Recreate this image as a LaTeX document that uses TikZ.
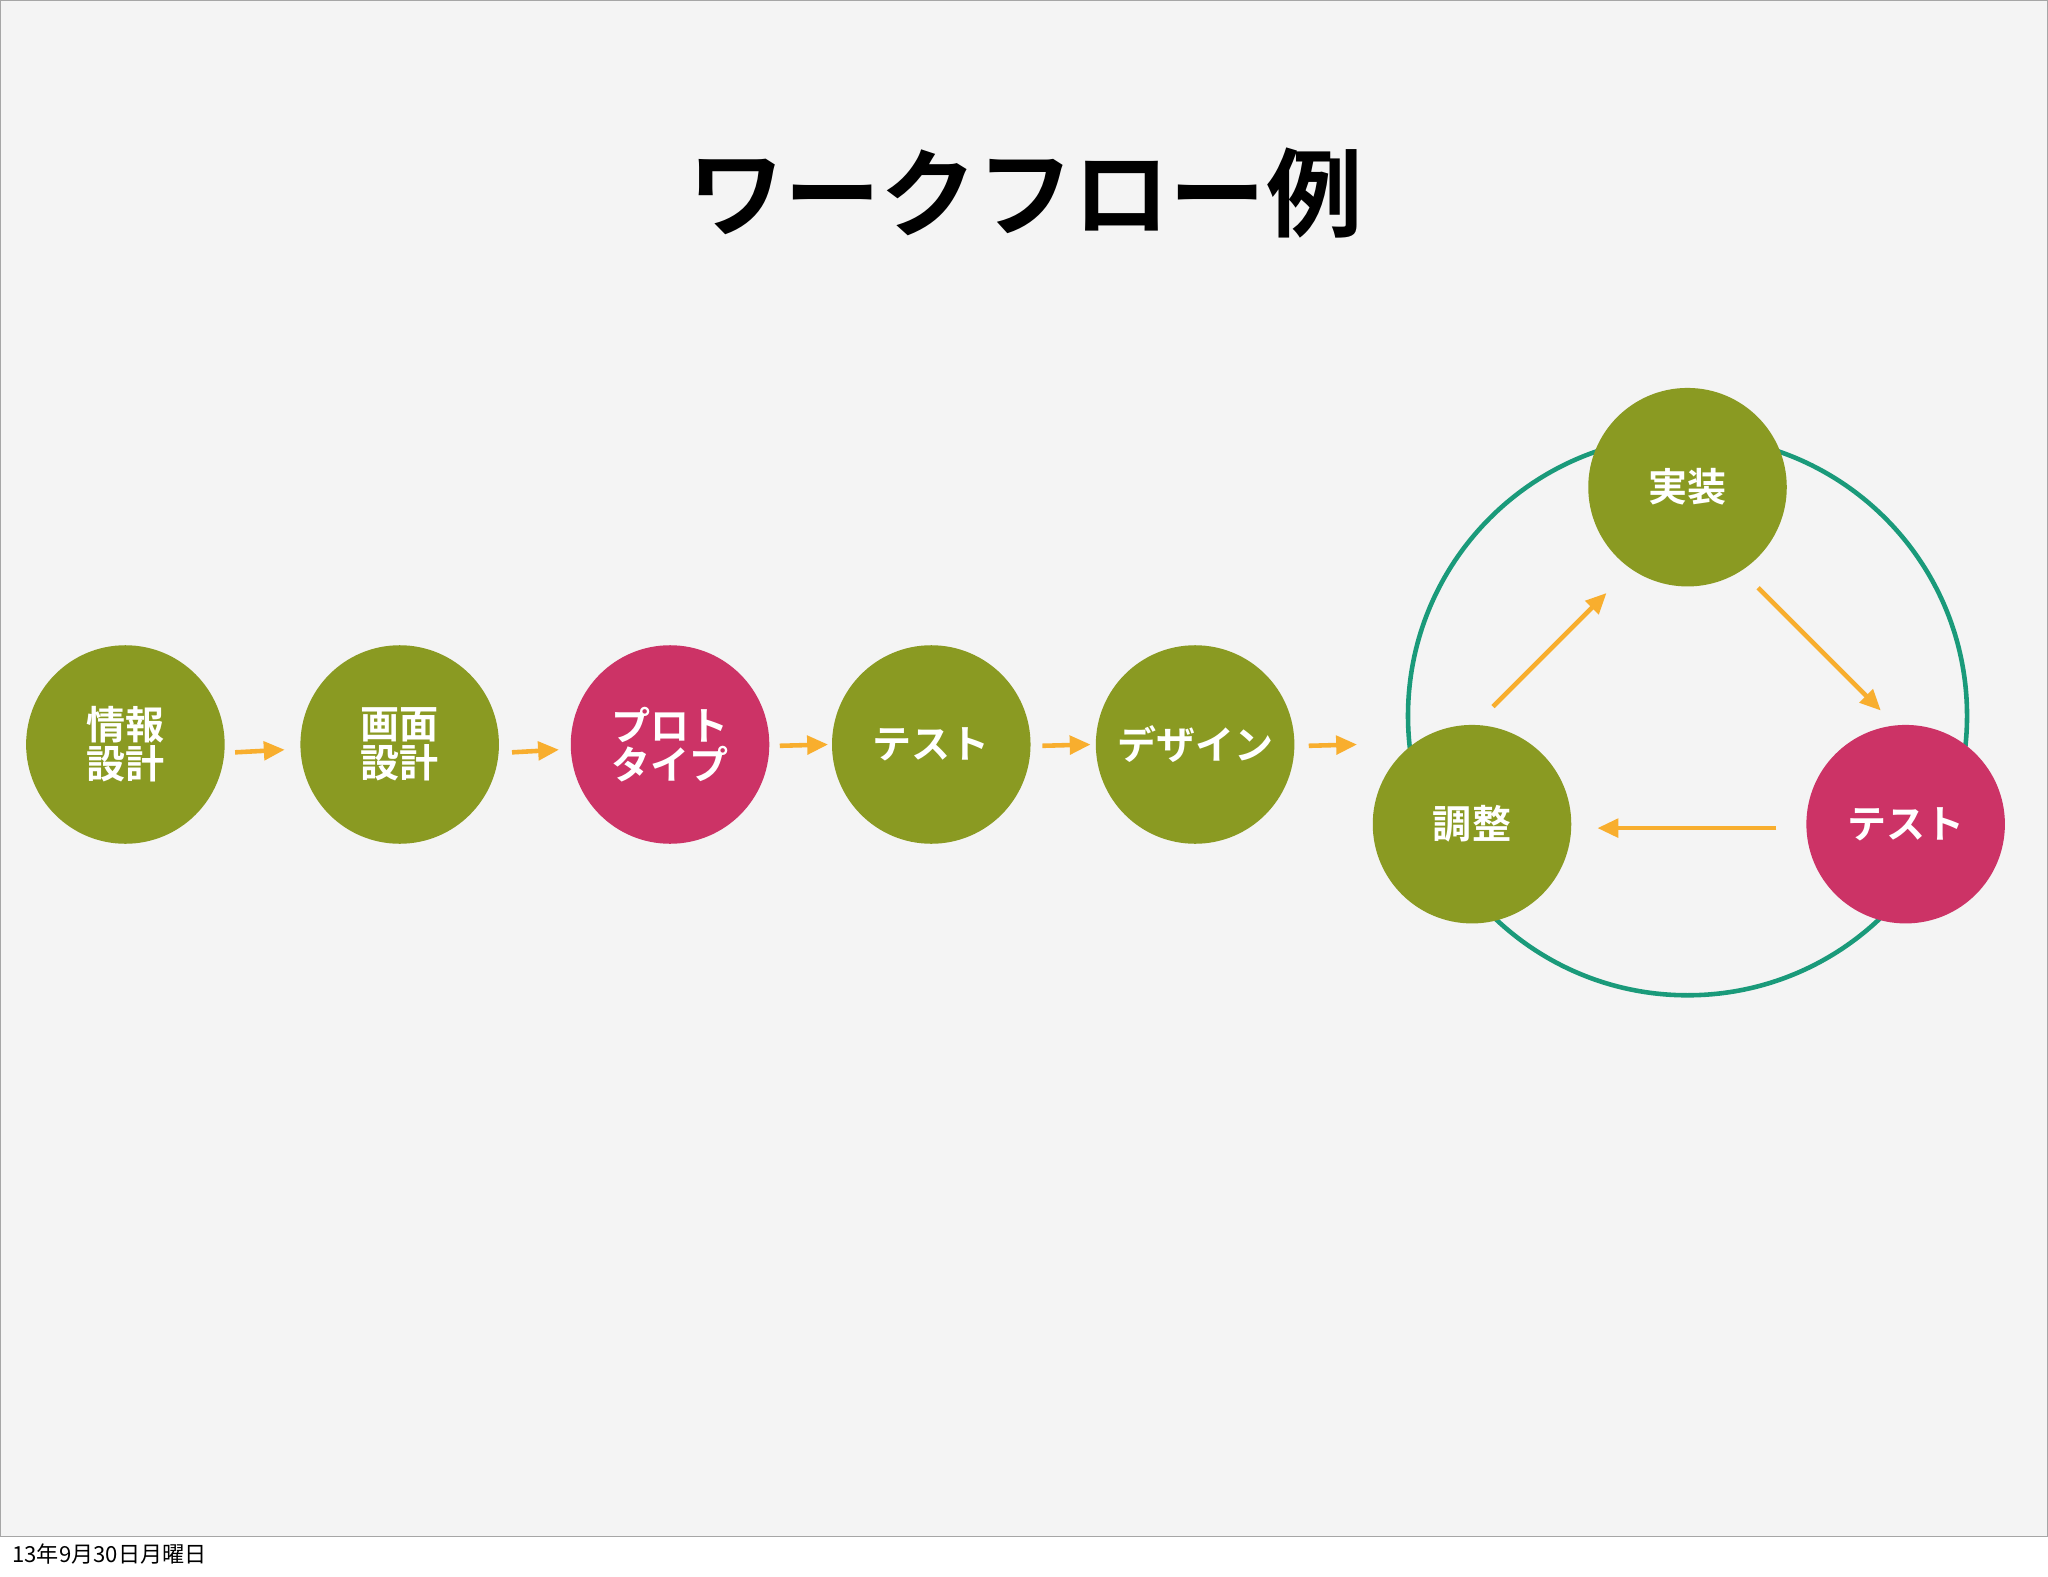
\documentclass[tikz,border=0pt]{standalone}
\usepackage{fontspec}
\newfontfamily\cjk{Noto Sans CJK JP}
\newfontfamily\cjkb{Noto Sans CJK JP Bold}
\usetikzlibrary{arrows.meta}
\definecolor{olive}{HTML}{8A9A22}
\definecolor{mag}{HTML}{CC3366}
\definecolor{teal2}{HTML}{1A9A7A}
\definecolor{org}{HTML}{F8AE2E}
\begin{document}
\begin{tikzpicture}[x=1bp,y=-1bp,
  bub/.style={circle,minimum size=152bp,inner sep=0pt,text=white,align=center,font=\cjkb\fontsize{30}{34}\selectfont},
  gb/.style={bub,fill=olive},
  mb/.style={bub,fill=mag},
  flow/.style={org,line width=3.5bp,-{Triangle[length=16bp,width=14bp]}}]
\useasboundingbox (0,0) rectangle (1568,1207);
\fill[white] (0,0) rectangle (1568,1207);
\fill[gray!9,draw=gray!70,line width=0.8bp] (0.5,0.5) rectangle (1567.5,1176);
\node[font=\cjkb\fontsize{74}{80}\selectfont] (title) at (785,148) {ワークフロー例};
\node[gb] (a) at (96,570) {情報\\[-4bp]設計};
\node[gb] (b) at (306,570) {画面\\[-4bp]設計};
\node[mb] (c) at (513,570) {プロト\\[-4bp]タイプ};
\node[gb] (d) at (713,570) {テスト};
\node[gb] (e) at (915,570) {デザイン};
\coordinate (a1) at (180,576); \coordinate (a2) at (218,574);
\coordinate (b1) at (392,576); \coordinate (b2) at (428,574);
\coordinate (c1) at (597,571); \coordinate (c2) at (634,570);
\coordinate (d1) at (798,571); \coordinate (d2) at (835,570);
\coordinate (e1) at (1002,571); \coordinate (e2) at (1039,570);
\draw[flow] (a1)--(a2); \draw[flow] (b1)--(b2); \draw[flow] (c1)--(c2);
\draw[flow] (d1)--(d2); \draw[flow] (e1)--(e2);
\node[circle,draw=teal2,line width=3.5bp,minimum size=428bp] (ring) at (1292,548) {};
\node[gb] (j) at (1292,373) {実装};
\node[mb] (t) at (1459,631) {テスト};
\node[gb] (k) at (1127,631) {調整};
\coordinate (k1) at (1143,541); \coordinate (j1) at (1230,454);
\coordinate (j2) at (1346,450); \coordinate (t1) at (1440,544);
\coordinate (t2) at (1360,634); \coordinate (k2) at (1223,634);
\draw[flow] (k1)--(j1); \draw[flow] (j2)--(t1); \draw[flow] (t2)--(k2);
\node[anchor=west,font=\cjk\fontsize{17}{20}\selectfont] (date) at (6,1190) {13年9月30日月曜日};
\end{tikzpicture}
\end{document}
